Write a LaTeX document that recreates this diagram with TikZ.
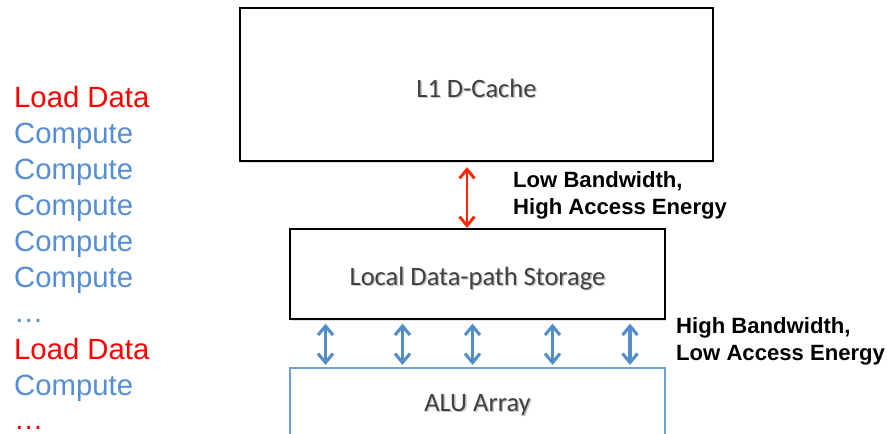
\documentclass[tikz,border=0pt]{standalone}
\usepackage{fontspec}
\setmainfont{Liberation Sans}
\newfontfamily\boxfont{Carlito}
\usetikzlibrary{arrows.meta,shadows,calc}

\definecolor{stepblue}{RGB}{85,142,213}
\definecolor{arrowblue}{RGB}{83,141,204}
\definecolor{alublue}{RGB}{110,160,215}
\definecolor{arrowred}{RGB}{255,38,0}
\definecolor{boxtext}{RGB}{64,64,64}

% label text with a soft offset shadow
\newcommand\shadowtext[1]{\makebox[0pt][l]{\hspace{1.4pt}\raisebox{-1.6pt}{\textcolor{black!22}{#1}}}#1}

\tikzset{
  membox/.style={draw=black, line width=1.3pt, fill=white,
    drop shadow={shadow xshift=1.2pt, shadow yshift=-1.5pt, opacity=0.25},
    inner sep=0pt, text depth=0pt, text=boxtext, font=\boxfont\fontsize{26.5}{30}\selectfont},
  alubox/.style={draw=alublue, line width=1.1pt, fill=white, inner sep=0pt, text depth=0pt,
    text=boxtext, font=\boxfont\fontsize{26.5}{30}\selectfont},
  steptext/.style={anchor=base west, inner sep=0pt, font=\fontsize{29.3}{34}\selectfont},
  costlabel/.style={anchor=base west, inner sep=0pt, align=left,
    font=\bfseries\fontsize{22.1}{27}\selectfont},
  redlink/.style={draw=arrowred, line width=2.9pt,
    {Straight Barb[length=9pt,width=15pt,line width=2.9pt]}-{Straight Barb[length=9pt,width=15pt,line width=2.9pt]}},
  bluelink/.style={draw=arrowblue, line width=3.1pt,
    {Straight Barb[length=9pt,width=15pt,line width=3.1pt]}-{Straight Barb[length=9pt,width=15pt,line width=3.1pt]}},
}

\begin{document}
\begin{tikzpicture}[x=1pt,y=-1pt]
  \useasboundingbox (0,0) rectangle (887,434);
  \fill[white] (0,0) rectangle (887,434);
  \clip (0,0) rectangle (887,434);

  % memory hierarchy
  \node[membox, minimum width=473pt, minimum height=153pt, text height=25pt] (l1) at (476.5,84.5) {\shadowtext{L1 D-Cache}};
  \node[membox, minimum width=375pt, minimum height=90pt, text height=22pt] (local) at (477.5,274) {\shadowtext{Local Data-path Storage}};
  \node[alubox, minimum width=375pt, minimum height=72pt, text height=14pt] (alu) at (477.5,404) {\shadowtext{ALU Array}};

  % L1 <-> local storage
  \draw[redlink, shorten <=5.5pt, shorten >=0.5pt] ([xshift=-9.5pt]l1.south) -- ([xshift=-10.5pt]local.north);

  % local storage <-> ALUs
  \foreach \dx in {-152,-75,-5,75,152.5}
    \draw[bluelink, shorten <=4pt, shorten >=2.5pt] ([xshift=\dx pt]local.south) -- ([xshift=\dx pt]alu.north);

  % cost annotations
  \node[costlabel] (lowbw) at (513,214.5) {Low Bandwidth,\\High Access Energy};
  \node[costlabel] (highbw) at (676,360.5) {High Bandwidth,\\Low Access Energy};

  % instruction stream
  \node[steptext, text=red]       (s1)  at (14,107)   {Load Data};
  \node[steptext, text=stepblue]  (s2)  at (14,143)   {Compute};
  \node[steptext, text=stepblue]  (s3)  at (14,179)   {Compute};
  \node[steptext, text=stepblue]  (s4)  at (14,215)   {Compute};
  \node[steptext, text=stepblue]  (s5)  at (14,251)   {Compute};
  \node[steptext, text=stepblue]  (s6)  at (14,287)   {Compute};
  \node[steptext, text=stepblue]  (s7)  at (14,322)   {…};
  \node[steptext, text=red]       (s8)  at (14,359)   {Load Data};
  \node[steptext, text=stepblue]  (s9)  at (14,395)   {Compute};
  \node[steptext, text=red]       (s10) at (14,429)   {…};
\end{tikzpicture}
\end{document}
